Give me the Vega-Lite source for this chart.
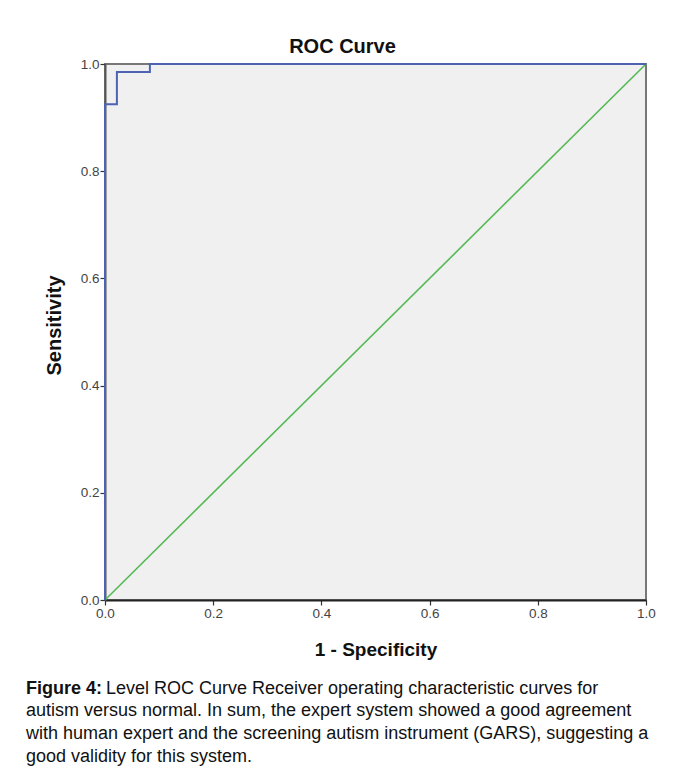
{
  "$schema": "https://vega.github.io/schema/vega-lite/v6.json",
  "width": 541,
  "height": 536,
  "autosize": {"type": "none"},
  "padding": {"left": 105, "top": 64, "right": 35, "bottom": 171},
  "background": "white",
  "config": {
    "font": "Liberation Sans",
    "view": {"fill": "#f0f0f0", "stroke": "#777777", "strokeWidth": 2}
  },
  "title": {
    "text": "Figure 4:",
    "subtitle": [
      "\u200b\u00a0\u00a0\u00a0\u00a0\u00a0\u00a0\u00a0\u00a0\u00a0\u00a0\u00a0\u00a0\u00a0\u00a0\u00a0\u00a0Level ROC Curve Receiver operating characteristic curves for",
      "autism versus normal. In sum, the expert system showed a good agreement",
      "with human expert and the screening autism instrument (GARS), suggesting a",
      "good validity for this system."
    ],
    "orient": "bottom",
    "anchor": "start",
    "frame": "group",
    "dx": -79,
    "offset": 20,
    "font": "Liberation Sans",
    "fontSize": 18,
    "fontWeight": "bold",
    "color": "#111111",
    "subtitleFont": "Liberation Sans",
    "subtitleFontSize": 18,
    "subtitleColor": "#111111",
    "subtitleLineHeight": 22.7,
    "subtitlePadding": -18
  },
  "datasets": {
    "roc": [
      {"fpr": 0.0, "sens": 0.0, "order": 1},
      {"fpr": 0.0, "sens": 0.925, "order": 2},
      {"fpr": 0.022, "sens": 0.925, "order": 3},
      {"fpr": 0.022, "sens": 0.985, "order": 4},
      {"fpr": 0.083, "sens": 0.985, "order": 5},
      {"fpr": 0.083, "sens": 1.0, "order": 6},
      {"fpr": 1.0, "sens": 1.0, "order": 7}
    ],
    "ref": [
      {"fpr": 0.0, "sens": 0.0},
      {"fpr": 1.0, "sens": 1.0}
    ]
  },
  "resolve": {"axis": {"x": "independent"}},
  "layer": [
    {
      "data": {"name": "ref"},
      "mark": {"type": "line", "color": "#55b955", "strokeWidth": 1.6, "clip": false},
      "encoding": {
        "x": {
          "field": "fpr", "type": "quantitative",
          "scale": {"domain": [0, 1], "nice": false, "zero": false},
          "axis": {
            "orient": "top", "title": "ROC Curve", "labels": false, "ticks": false,
            "domain": false, "grid": false, "titleX": 237,
            "titleFont": "Liberation Sans", "titleFontSize": 20, "titleFontWeight": "bold",
            "titleColor": "#111111", "titlePadding": 8
          }
        },
        "y": {
          "field": "sens", "type": "quantitative",
          "scale": {"domain": [0, 1], "nice": false, "zero": false},
          "axis": {
            "title": "Sensitivity", "values": [0, 0.2, 0.4, 0.6, 0.8, 1.0], "format": ".1f",
            "grid": false, "domainColor": "#555555", "domainWidth": 2,
            "tickColor": "#333333", "tickSize": 5, "tickWidth": 1.2,
            "labelFont": "Liberation Sans", "labelFontSize": 13.5, "labelColor": "#444444", "labelPadding": 1,
            "labelFlush": false,
            "titleFont": "Liberation Sans", "titleFontSize": 20, "titleFontWeight": "bold",
            "titleColor": "#111111", "titlePadding": 16, "titleY": 261
          }
        }
      }
    },
    {
      "data": {"name": "roc"},
      "mark": {"type": "line", "color": "#4d62b3", "strokeWidth": 2, "clip": false},
      "encoding": {
        "x": {
          "field": "fpr", "type": "quantitative",
          "scale": {"domain": [0, 1], "nice": false, "zero": false},
          "axis": {
            "orient": "bottom", "title": "1 - Specificity", "values": [0, 0.2, 0.4, 0.6, 0.8, 1.0], "format": ".1f",
            "grid": false, "domainColor": "#222222", "domainWidth": 2,
            "tickColor": "#333333", "tickSize": 5, "tickWidth": 1.2,
            "labelFont": "Liberation Sans", "labelFontSize": 13.5, "labelColor": "#444444", "labelPadding": 1,
            "labelFlush": false,
            "titleFont": "Liberation Sans", "titleFontSize": 19, "titleFontWeight": "bold",
            "titleColor": "#111111", "titlePadding": 21
          }
        },
        "y": {"field": "sens", "type": "quantitative"},
        "order": {"field": "order", "type": "quantitative"}
      }
    }
  ]
}
